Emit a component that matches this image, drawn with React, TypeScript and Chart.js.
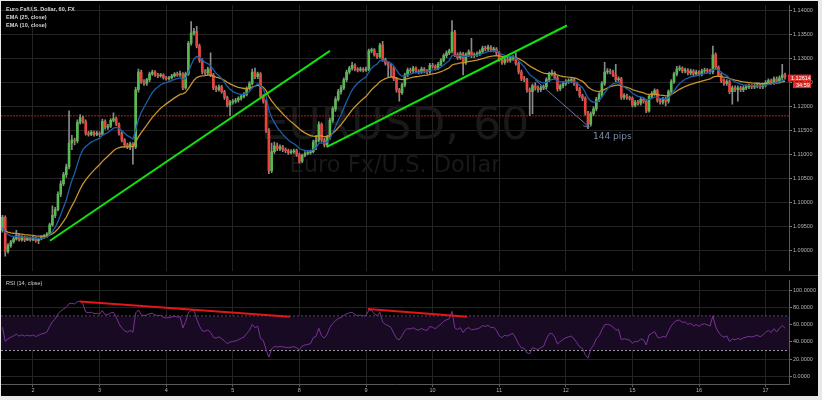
import React, { useEffect, useRef } from 'react';
import { Chart, registerables } from 'chart.js';

Chart.register(...registerables);

// ---------------- data (hourly EUR/USD bars) ----------------
const FIRST_OPEN = 1.0942;
const CLOSES = [
  1.0969,1.0898,1.0910,1.0918,1.0924,1.0932,1.0922,1.0928,1.0922,1.0926,
  1.0922,1.0926,1.0920,1.0924,1.0928,1.0930,1.0934,1.0953,1.0973,1.0985,
  1.1017,1.1039,1.1058,1.1074,1.1124,1.1130,1.1128,1.1167,1.1177,1.1169,
  1.1144,1.1142,1.1146,1.1142,1.1144,1.1142,1.1169,1.1157,1.1159,1.1171,
  1.1175,1.1163,1.1144,1.1130,1.1120,1.1116,1.1122,1.1116,1.1235,1.1272,
  1.1252,1.1248,1.1256,1.1268,1.1272,1.1266,1.1264,1.1266,1.1260,1.1258,
  1.1260,1.1264,1.1268,1.1266,1.1268,1.1239,1.1268,1.1332,1.1353,1.1357,
  1.1326,1.1296,1.1272,1.1270,1.1278,1.1266,1.1239,1.1235,1.1241,1.1231,
  1.1219,1.1203,1.1209,1.1211,1.1213,1.1217,1.1221,1.1225,1.1237,1.1248,
  1.1272,1.1262,1.1268,1.1221,1.1211,1.1150,1.1066,1.1106,1.1118,1.1112,
  1.1116,1.1110,1.1108,1.1104,1.1106,1.1108,1.1100,1.1086,1.1098,1.1102,
  1.1104,1.1106,1.1126,1.1130,1.1163,1.1130,1.1120,1.1136,1.1171,1.1195,
  1.1215,1.1231,1.1239,1.1256,1.1272,1.1280,1.1286,1.1278,1.1276,1.1278,
  1.1276,1.1278,1.1316,1.1318,1.1308,1.1304,1.1328,1.1298,1.1290,1.1286,
  1.1280,1.1258,1.1235,1.1229,1.1245,1.1266,1.1276,1.1274,1.1280,1.1274,
  1.1272,1.1278,1.1274,1.1272,1.1286,1.1284,1.1280,1.1288,1.1296,1.1306,
  1.1312,1.1316,1.1355,1.1308,1.1302,1.1310,1.1292,1.1308,1.1314,1.1306,
  1.1308,1.1310,1.1314,1.1322,1.1320,1.1324,1.1318,1.1320,1.1312,1.1298,
  1.1292,1.1298,1.1296,1.1300,1.1302,1.1290,1.1272,1.1258,1.1256,1.1235,
  1.1231,1.1243,1.1239,1.1235,1.1239,1.1241,1.1256,1.1268,1.1270,1.1260,
  1.1237,1.1243,1.1248,1.1252,1.1254,1.1256,1.1248,1.1237,1.1223,1.1217,
  1.1187,1.1163,1.1185,1.1195,1.1215,1.1225,1.1248,1.1272,1.1274,1.1272,
  1.1266,1.1256,1.1258,1.1219,1.1223,1.1219,1.1217,1.1203,1.1209,1.1207,
  1.1215,1.1211,1.1191,1.1221,1.1227,1.1233,1.1213,1.1209,1.1215,1.1211,
  1.1231,1.1252,1.1268,1.1278,1.1280,1.1274,1.1276,1.1270,1.1274,1.1268,
  1.1272,1.1268,1.1274,1.1276,1.1274,1.1272,1.1308,1.1282,1.1266,1.1254,
  1.1248,1.1252,1.1231,1.1239,1.1235,1.1239,1.1235,1.1239,1.1241,1.1243,
  1.1241,1.1243,1.1245,1.1241,1.1245,1.1250,1.1254,1.1250,1.1258,1.1252,
  1.1260,1.1266,1.12614,
];
const HIGHS = [
  1.0973,1.0972,1.0914,1.0921,1.0927,1.0942,1.0935,1.0931,1.0930,1.0929,
  1.0928,1.0930,1.0928,1.0926,1.0931,1.0933,1.0937,1.0957,1.0993,1.0990,
  1.1022,1.1045,1.1063,1.1080,1.1191,1.1140,1.1134,1.1172,1.1183,1.1180,
  1.1172,1.1148,1.1150,1.1149,1.1148,1.1147,1.1174,1.1172,1.1163,1.1175,
  1.1187,1.1178,1.1166,1.1147,1.1133,1.1124,1.1126,1.1125,1.1240,1.1278,
  1.1276,1.1256,1.1259,1.1272,1.1276,1.1275,1.1269,1.1269,1.1268,1.1263,
  1.1263,1.1267,1.1271,1.1272,1.1274,1.1271,1.1272,1.1336,1.1377,1.1363,
  1.1367,1.1330,1.1300,1.1277,1.1282,1.1312,1.1269,1.1243,1.1245,1.1244,
  1.1234,1.1222,1.1213,1.1215,1.1217,1.1220,1.1224,1.1229,1.1241,1.1252,
  1.1278,1.1280,1.1272,1.1271,1.1225,1.1214,1.1154,1.1124,1.1126,1.1124,
  1.1120,1.1119,1.1114,1.1111,1.1110,1.1111,1.1111,1.1103,1.1101,1.1106,
  1.1108,1.1109,1.1130,1.1140,1.1168,1.1166,1.1134,1.1140,1.1176,1.1200,
  1.1220,1.1236,1.1244,1.1260,1.1276,1.1284,1.1292,1.1289,1.1281,1.1282,
  1.1281,1.1282,1.1320,1.1322,1.1321,1.1311,1.1332,1.1336,1.1301,1.1293,
  1.1289,1.1283,1.1261,1.1238,1.1249,1.1270,1.1280,1.1280,1.1284,1.1283,
  1.1277,1.1282,1.1281,1.1277,1.1290,1.1290,1.1287,1.1292,1.1300,1.1310,
  1.1316,1.1320,1.1379,1.1359,1.1312,1.1314,1.1313,1.1312,1.1318,1.1342,
  1.1312,1.1314,1.1318,1.1326,1.1326,1.1328,1.1327,1.1324,1.1323,1.1315,
  1.1302,1.1302,1.1302,1.1304,1.1306,1.1312,1.1293,1.1276,1.1263,1.1259,
  1.1239,1.1247,1.1250,1.1243,1.1243,1.1245,1.1260,1.1272,1.1276,1.1273,
  1.1263,1.1247,1.1252,1.1256,1.1258,1.1260,1.1259,1.1251,1.1240,1.1226,
  1.1220,1.1190,1.1189,1.1200,1.1219,1.1229,1.1252,1.1292,1.1279,1.1278,
  1.1276,1.1288,1.1262,1.1261,1.1227,1.1226,1.1222,1.1220,1.1213,1.1213,
  1.1219,1.1218,1.1214,1.1225,1.1231,1.1237,1.1236,1.1217,1.1219,1.1219,
  1.1235,1.1256,1.1272,1.1284,1.1285,1.1283,1.1280,1.1279,1.1278,1.1277,
  1.1276,1.1275,1.1278,1.1280,1.1279,1.1278,1.1326,1.1312,1.1285,1.1269,
  1.1258,1.1256,1.1255,1.1243,1.1243,1.1243,1.1242,1.1243,1.1245,1.1247,
  1.1246,1.1247,1.1249,1.1248,1.1249,1.1254,1.1258,1.1257,1.1262,1.1262,
  1.1264,1.1288,1.1270,
];
const LOWS = [
  1.0938,1.0888,1.0894,1.0906,1.0915,1.0921,1.0919,1.0919,1.0918,1.0920,
  1.0919,1.0920,1.0917,1.0914,1.0922,1.0925,1.0927,1.0932,1.0950,1.0968,
  1.0982,1.1012,1.1035,1.1052,1.1070,1.1110,1.1120,1.1124,1.1163,1.1165,
  1.1140,1.1138,1.1139,1.1138,1.1139,1.1137,1.1140,1.1153,1.1152,1.1156,
  1.1168,1.1160,1.1140,1.1126,1.1115,1.1112,1.1110,1.1080,1.1112,1.1230,
  1.1248,1.1244,1.1244,1.1252,1.1265,1.1263,1.1260,1.1261,1.1257,1.1255,
  1.1255,1.1257,1.1261,1.1263,1.1263,1.1235,1.1236,1.1265,1.1328,1.1349,
  1.1322,1.1292,1.1268,1.1266,1.1266,1.1262,1.1235,1.1231,1.1232,1.1228,
  1.1215,1.1199,1.1181,1.1205,1.1207,1.1209,1.1213,1.1218,1.1222,1.1234,
  1.1245,1.1258,1.1258,1.1217,1.1207,1.1146,1.1060,1.1062,1.1102,1.1108,
  1.1108,1.1106,1.1104,1.1100,1.1101,1.1102,1.1096,1.1082,1.1083,1.1095,
  1.1099,1.1100,1.1103,1.1110,1.1126,1.1126,1.1116,1.1116,1.1132,1.1167,
  1.1190,1.1211,1.1226,1.1235,1.1252,1.1268,1.1276,1.1274,1.1272,1.1273,
  1.1272,1.1273,1.1275,1.1312,1.1305,1.1300,1.1301,1.1294,1.1286,1.1262,
  1.1262,1.1254,1.1230,1.1211,1.1225,1.1241,1.1262,1.1270,1.1270,1.1270,
  1.1268,1.1269,1.1270,1.1268,1.1269,1.1280,1.1276,1.1277,1.1285,1.1293,
  1.1302,1.1308,1.1312,1.1304,1.1298,1.1298,1.1266,1.1288,1.1304,1.1302,
  1.1302,1.1304,1.1306,1.1310,1.1316,1.1316,1.1314,1.1314,1.1308,1.1294,
  1.1288,1.1288,1.1292,1.1292,1.1296,1.1286,1.1268,1.1254,1.1252,1.1230,
  1.1181,1.1185,1.1234,1.1230,1.1231,1.1235,1.1237,1.1252,1.1264,1.1256,
  1.1232,1.1233,1.1239,1.1244,1.1248,1.1250,1.1244,1.1233,1.1219,1.1212,
  1.1182,1.1154,1.1159,1.1181,1.1191,1.1210,1.1221,1.1244,1.1268,1.1268,
  1.1262,1.1252,1.1252,1.1215,1.1215,1.1215,1.1213,1.1199,1.1199,1.1203,
  1.1203,1.1207,1.1187,1.1188,1.1217,1.1223,1.1209,1.1205,1.1205,1.1201,
  1.1207,1.1227,1.1248,1.1264,1.1274,1.1270,1.1270,1.1266,1.1266,1.1264,
  1.1264,1.1264,1.1264,1.1270,1.1270,1.1268,1.1268,1.1278,1.1262,1.1250,
  1.1244,1.1244,1.1227,1.1205,1.1231,1.1211,1.1231,1.1231,1.1235,1.1237,
  1.1237,1.1237,1.1239,1.1237,1.1237,1.1241,1.1246,1.1246,1.1246,1.1248,
  1.1248,1.1256,1.1257,
];

const DAY_LABELS = ['2', '3', '4', '5', '8', '9', '10', '11', '12', '15', '16', '17'];
const DAY_START_BARS = [11, 35, 59, 83, 107, 131, 155, 179, 203, 227, 251, 275];
const PRICE_TICKS = [1.09, 1.095, 1.1, 1.105, 1.11, 1.115, 1.12, 1.125, 1.13, 1.135, 1.14];
const RSI_TICKS = [0, 20, 40, 60, 80, 100];
const RSI_UPPER = 70;
const RSI_LOWER = 30;
const RSI_LEVEL_BEFORE_FIRST_BAR = 50;
const SUPPORT_LEVEL = 1.1181;

const TREND_A = [{ x: 17.1, y: 1.092 }, { x: 118.0, y: 1.1316 }];
const TREND_B = [{ x: 116.9, y: 1.1116 }, { x: 203.4, y: 1.1369 }];
const PIPS_ARROW = [{ x: 191.9, y: 1.1256 }, { x: 211.4, y: 1.1157 }];
const PIPS_LABEL = { x: 212.8, y: 1.1138, text: '144 pips' };
const RSI_DIV_A = [{ x: 27.9, y: 87.2 }, { x: 103.6, y: 69.3 }];
const RSI_DIV_B = [{ x: 131.7, y: 78.2 }, { x: 167.4, y: 69.3 }];

const TITLE_LINES = ['Euro Fx/U.S. Dollar, 60, FX', 'EMA (25, close)', 'EMA (10, close)'];
const RSI_TITLE = 'RSI (14, close)';
const WATERMARK = ['EURUSD, 60', 'Euro Fx/U.S. Dollar'];
const COUNTDOWN = '34:59';

const X_MIN = -0.53;
const X_MAX = 283.43;
const PRICE_MIN = 1.085758;
const PRICE_MAX = 1.141111;
const RSI_MIN = -8.94;
const RSI_MAX = 111.73;

// ---------------- derived series ----------------
const OPENS = CLOSES.map((_, i) => (i === 0 ? FIRST_OPEN : CLOSES[i - 1]));

function ema(src: number[], n: number, seed: number) {
  const k = 2 / (n + 1);
  let prev = seed;
  return src.map((v) => (prev = v * k + prev * (1 - k)));
}

// Wilder RSI; the averages before the first visible bar are seeded from the
// mean absolute move of the first n bars, split at the RSI level read at the left edge.
function rsi(src: number[], n: number, first: number, startLevel: number) {
  let prev = first;
  let sumAbs = 0;
  for (let i = 0; i < n; i++) {
    sumAbs += Math.abs(src[i] - (i === 0 ? first : src[i - 1]));
  }
  const avgAbs = sumAbs / n;
  let ag = avgAbs * (startLevel / 100);
  let al = avgAbs * (1 - startLevel / 100);
  prev = first;
  return src.map((v) => {
    const ch = v - prev;
    prev = v;
    ag = (ag * (n - 1) + Math.max(ch, 0)) / n;
    al = (al * (n - 1) + Math.max(-ch, 0)) / n;
    return al === 0 ? 100 : 100 - 100 / (1 + ag / al);
  });
}

const EMA25 = ema(CLOSES, 25, FIRST_OPEN);
const EMA10 = ema(CLOSES, 10, FIRST_OPEN);
const RSI14 = rsi(CLOSES, 14, FIRST_OPEN, RSI_LEVEL_BEFORE_FIRST_BAR);

// ---------------- style ----------------
const FONT = "'Liberation Sans', Arial, sans-serif";
const WM_FONT = "'DejaVu Sans', Verdana, sans-serif";
const GRID = '#242424';
const AXIS_TEXT = '#b4b4b4';
const UP = '#58bb52';
const DOWN = '#e8453b';

const dayTicks = (s: any) => {
  s.ticks = DAY_START_BARS.map((v) => ({ value: v }));
};

const priceDecor = {
  id: 'priceDecor',
  beforeDatasetsDraw(chart: any) {
    const { ctx, chartArea } = chart;
    const cx = (chartArea.left + chartArea.right) / 2;
    ctx.save();
    ctx.fillStyle = '#191919';
    ctx.textAlign = 'center';
    ctx.textBaseline = 'alphabetic';
    ctx.font = `44px ${WM_FONT}`;
    ctx.fillText(WATERMARK[0], cx, 138);
    ctx.font = `22.5px ${WM_FONT}`;
    ctx.fillText(WATERMARK[1], cx, 171);
    ctx.restore();
  },
  afterDatasetsDraw(chart: any) {
    const { ctx, scales } = chart;
    const x1 = scales.x.getPixelForValue(PIPS_ARROW[0].x);
    const y1 = scales.y.getPixelForValue(PIPS_ARROW[0].y);
    const x2 = scales.x.getPixelForValue(PIPS_ARROW[1].x);
    const y2 = scales.y.getPixelForValue(PIPS_ARROW[1].y);
    const a = Math.atan2(y2 - y1, x2 - x1);
    ctx.save();
    ctx.strokeStyle = '#6476a0';
    ctx.lineWidth = 1;
    ctx.beginPath();
    ctx.moveTo(x2 - 6 * Math.cos(a - 0.5), y2 - 6 * Math.sin(a - 0.5));
    ctx.lineTo(x2, y2);
    ctx.lineTo(x2 - 6 * Math.cos(a + 0.5), y2 - 6 * Math.sin(a + 0.5));
    ctx.stroke();
    ctx.fillStyle = '#7d8aa6';
    ctx.font = `9px ${WM_FONT}`;
    ctx.textAlign = 'left';
    ctx.textBaseline = 'middle';
    ctx.fillText(PIPS_LABEL.text, scales.x.getPixelForValue(PIPS_LABEL.x), scales.y.getPixelForValue(PIPS_LABEL.y));
    ctx.restore();
  },
  afterDraw(chart: any) {
    const { ctx, scales, chartArea } = chart;
    ctx.save();
    ctx.fillStyle = '#d6d6d6';
    ctx.font = `bold 5.5px ${FONT}`;
    ctx.textAlign = 'left';
    ctx.textBaseline = 'middle';
    TITLE_LINES.forEach((t, i) => ctx.fillText(t, 5, 8 + i * 8));
    const last = CLOSES[CLOSES.length - 1];
    const y = scales.y.getPixelForValue(last) + 1;
    ctx.fillStyle = '#dd302b';
    ctx.fillRect(chartArea.right - 1, y - 3.5, 23, 7);
    ctx.fillRect(chartArea.right + 4, y + 4, 18, 6);
    ctx.fillStyle = '#ffffff';
    ctx.font = `5.5px ${FONT}`;
    ctx.fillText(last.toFixed(5), chartArea.right + 2, y);
    ctx.fillText(COUNTDOWN, chartArea.right + 7, y + 7);
    ctx.restore();
  },
};

const rsiDecor = {
  id: 'rsiDecor',
  afterDraw(chart: any) {
    const { ctx } = chart;
    ctx.save();
    ctx.fillStyle = '#d0d0d0';
    ctx.font = `5.5px ${FONT}`;
    ctx.textAlign = 'left';
    ctx.textBaseline = 'middle';
    ctx.fillText(RSI_TITLE, 5, 7);
    ctx.restore();
  },
};

function priceConfig(): any {
  const line = (data: any[], color: string, width: number, order: number, extra: any = {}) => ({
    type: 'line',
    data,
    borderColor: color,
    borderWidth: width,
    pointRadius: 0,
    tension: 0,
    fill: false,
    order,
    ...extra,
  });
  return {
    type: 'bar',
    data: {
      datasets: [
        line([{ x: X_MIN, y: SUPPORT_LEVEL }, { x: X_MAX, y: SUPPORT_LEVEL }], '#7a1212', 1.5, 9, { borderDash: [2, 1] }),
        {
          type: 'bar',
          data: CLOSES.map((_, i) => ({ x: i, y: [LOWS[i], HIGHS[i]] })),
          backgroundColor: '#8a8a8a',
          barThickness: 1,
          grouped: false,
          borderWidth: 0,
          order: 8,
        },
        {
          type: 'bar',
          data: CLOSES.map((c, i) => ({ x: i, y: [OPENS[i], c] })),
          backgroundColor: CLOSES.map((c, i) => (c >= OPENS[i] ? UP : DOWN)),
          barThickness: 2,
          minBarLength: 1,
          grouped: false,
          borderWidth: 0,
          order: 7,
        },
        line(EMA25.map((v, i) => ({ x: i, y: v })), '#c8942b', 1.3, 6),
        line(EMA10.map((v, i) => ({ x: i, y: v })), '#1a5fae', 1.3, 5),
        line(PIPS_ARROW, '#6476a0', 1, 4),
        line(TREND_A, '#10e010', 2, 3),
        line(TREND_B, '#10e010', 2, 3),
      ],
    },
    options: {
      animation: false,
      responsive: false,
      devicePixelRatio: 1,
      layout: { padding: 0 },
      plugins: { legend: { display: false }, tooltip: { enabled: false } },
      scales: {
        x: {
          type: 'linear',
          min: X_MIN,
          max: X_MAX,
          bounds: 'data',
          offset: false,
          afterBuildTicks: dayTicks,
          afterFit: (s: any) => { s.height = 0; },
          ticks: { display: false },
          grid: { color: GRID, drawTicks: false, offset: false },
          border: { display: false },
        },
        y: {
          type: 'linear',
          position: 'right',
          min: PRICE_MIN,
          max: PRICE_MAX,
          bounds: 'data',
          beginAtZero: false,
          afterBuildTicks: (s: any) => { s.ticks = PRICE_TICKS.map((v) => ({ value: v })); },
          afterFit: (s: any) => { s.width = 29; },
          ticks: {
            callback: (v: any) => Number(v).toFixed(5),
            color: AXIS_TEXT,
            font: { family: FONT, size: 5.5 },
            padding: 1,
          },
          grid: { color: GRID, tickColor: '#7a7a7a', tickLength: 3 },
          border: { color: '#5a5a5a' },
        },
      },
    },
    plugins: [priceDecor],
  };
}

function rsiConfig(): any {
  const line = (data: any[], color: string, width: number, order: number, extra: any = {}) => ({
    data,
    borderColor: color,
    borderWidth: width,
    pointRadius: 0,
    tension: 0,
    fill: false,
    order,
    ...extra,
  });
  return {
    type: 'line',
    data: {
      datasets: [
        line([{ x: X_MIN, y: RSI_UPPER }, { x: X_MAX, y: RSI_UPPER }], '#9a9a9a', 1, 5, { borderDash: [2, 2] }),
        line([{ x: X_MIN, y: RSI_LOWER }, { x: X_MAX, y: RSI_LOWER }], '#9a9a9a', 1, 4, {
          borderDash: [2, 2],
          fill: '-1',
          backgroundColor: '#170a22',
        }),
        line(RSI14.map((v, i) => ({ x: i, y: v })), '#7a3296', 1, 2),
        line(RSI_DIV_A, '#e3161b', 2, 1),
        line(RSI_DIV_B, '#e3161b', 2, 1),
      ],
    },
    options: {
      animation: false,
      responsive: false,
      devicePixelRatio: 1,
      layout: { padding: 0 },
      plugins: { legend: { display: false }, tooltip: { enabled: false } },
      scales: {
        x: {
          type: 'linear',
          min: X_MIN,
          max: X_MAX,
          bounds: 'data',
          offset: false,
          afterBuildTicks: dayTicks,
          afterFit: (s: any) => { s.height = 12; },
          ticks: {
            callback: (_v: any, i: number) => DAY_LABELS[i],
            color: AXIS_TEXT,
            font: { family: FONT, size: 5.5 },
            padding: 0,
            maxRotation: 0,
            autoSkip: false,
          },
          grid: { color: GRID, tickColor: '#5a5a5a', tickLength: 3, offset: false },
          border: { color: '#5a5a5a' },
        },
        y: {
          type: 'linear',
          position: 'right',
          min: RSI_MIN,
          max: RSI_MAX,
          bounds: 'data',
          afterBuildTicks: (s: any) => { s.ticks = RSI_TICKS.map((v) => ({ value: v })); },
          afterFit: (s: any) => { s.width = 29; },
          ticks: {
            callback: (v: any) => Number(v).toFixed(4),
            color: AXIS_TEXT,
            font: { family: FONT, size: 5.5 },
            padding: 1,
          },
          grid: { color: GRID, tickColor: '#7a7a7a', tickLength: 3 },
          border: { color: '#5a5a5a' },
        },
      },
    },
    plugins: [rsiDecor],
  };
}

export default function App() {
  const priceRef = useRef<HTMLCanvasElement>(null);
  const rsiRef = useRef<HTMLCanvasElement>(null);

  useEffect(() => {
    const c1 = new Chart(priceRef.current as HTMLCanvasElement, priceConfig());
    const c2 = new Chart(rsiRef.current as HTMLCanvasElement, rsiConfig());
    return () => {
      c1.destroy();
      c2.destroy();
    };
  }, []);

  return (
    <div style={{ position: 'fixed', left: 0, top: 0, width: 822, height: 400, background: '#e8e8e8', overflow: 'hidden' }}>
      <div style={{ position: 'absolute', left: 1, top: 1, width: 817, height: 395, background: '#000' }} />
      <canvas
        ref={priceRef}
        width={817}
        height={274}
        style={{ position: 'absolute', left: 1, top: 1, width: 817, height: 274 }}
      />
      <div style={{ position: 'absolute', left: 1, top: 275, width: 817, height: 1, background: '#4a4a4a' }} />
      <canvas
        ref={rsiRef}
        width={817}
        height={120}
        style={{ position: 'absolute', left: 1, top: 276, width: 817, height: 120 }}
      />
    </div>
  );
}
